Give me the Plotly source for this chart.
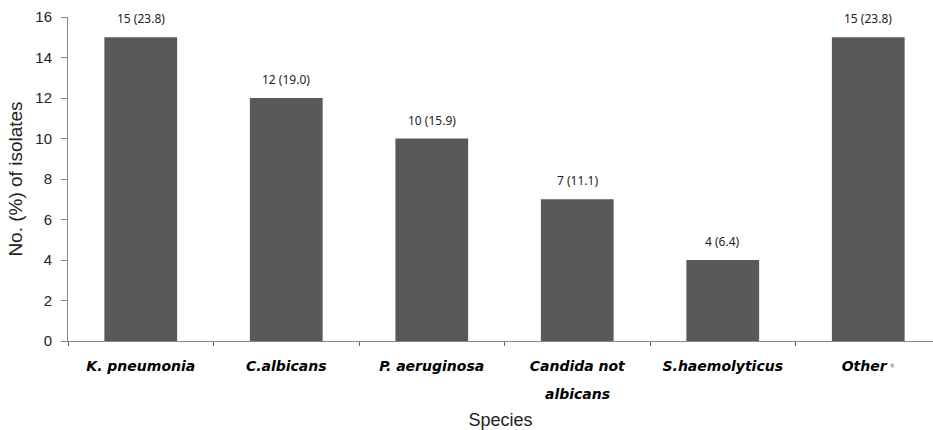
import plotly.graph_objects as go

categories = ["K. pneumonia", "C.albicans", "P. aeruginosa", "Candida not albicans",
              "S.haemolyticus", "Other"]
label_line1 = ["<b><i>K. pneumonia</i></b>", "<b><i>C.albicans</i></b>", "<b><i>P. aeruginosa</i></b>",
               "<b><i>Candida not</i></b>", "<b><i>S.haemolyticus</i></b>",
               "<b><i>Other</i></b><span style='color:#888888;font-size:10px'> *</span>"]
label_line2 = ["", "", "", "<b><i>albicans</i></b>", "", ""]
counts = [15, 12, 10, 7, 4, 15]
percents = ["23.8", "19.0", "15.9", "11.1", "6.4", "23.8"]
y_ticks = [0, 2, 4, 6, 8, 10, 12, 14, 16]

labels = [f"{c} ({p})" for c, p in zip(counts, percents)]

fig = go.Figure(go.Bar(
    x=categories, y=counts,
    marker=dict(color="#595959", line=dict(width=0)), width=0.5,
))

for cat, val, lab in zip(categories, counts, labels):
    fig.add_annotation(x=cat, y=val, text=lab, showarrow=False, yanchor="bottom",
                       yshift=8, font=dict(family="Noto Sans, sans-serif", size=12, color="#222222"))

for cat, l2 in zip(categories, label_line2):
    if l2:
        fig.add_annotation(x=cat, y=0, text=l2, showarrow=False, yanchor="middle",
                           yshift=-53, font=dict(family="DejaVu Sans, sans-serif", size=14, color="#000000"))

fig.update_layout(
    width=933, height=430, margin=dict(l=68, r=0, t=17, b=89),
    plot_bgcolor="white", paper_bgcolor="white", showlegend=False,
    font=dict(family="Liberation Sans, Arial, sans-serif", color="#222222"),
)
fig.update_xaxes(
    automargin=False,
    range=[-0.5, 5.445], showline=True, linecolor="#888888", linewidth=1,
    ticks="outside", tickson="boundaries", ticklen=4, tickcolor="#666666",
    ticklabelstandoff=12, tickmode="array", tickvals=categories, ticktext=label_line1,
    tickfont=dict(family="DejaVu Sans, sans-serif", size=14, color="#000000"),
    title=dict(text="Species", font=dict(size=18, color="#222222"), standoff=42),
    showgrid=False,
)
fig.update_yaxes(
    automargin=False,
    range=[0, 16], tickvals=y_ticks, showline=True, linecolor="#888888", linewidth=1,
    ticks="outside", ticklen=6, tickcolor="#888888", ticklabelstandoff=6,
    tickfont=dict(size=15, color="#222222"),
    title=dict(text="No. (%) of isolates", font=dict(size=19, color="#222222"), standoff=7),
    showgrid=False, zeroline=False,
)
fig.write_html("out.html", config={"displayModeBar": False},
               post_script="document.body.style.margin='0';")
